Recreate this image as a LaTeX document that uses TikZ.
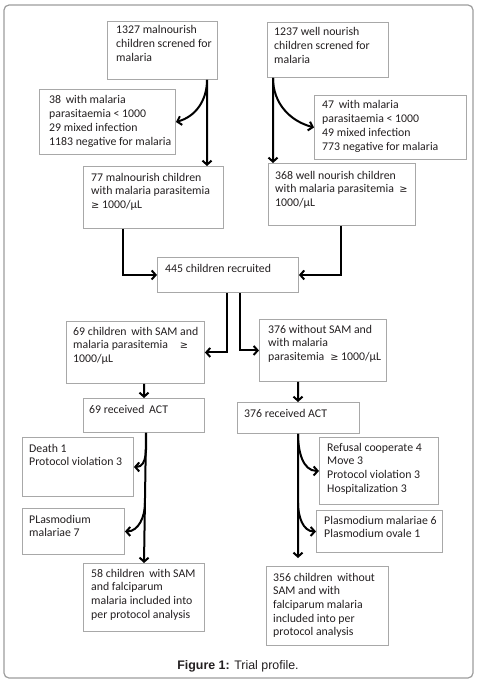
\documentclass[tikz,border=0pt]{standalone}
\usepackage{fontspec}
\setmainfont{Carlito}
\newfontfamily\capfont{Liberation Sans}
\newfontfamily\symfont{DejaVu Sans}
\usetikzlibrary{arrows.meta}
\definecolor{boxgray}{HTML}{A8A8A8}
\definecolor{framegray}{HTML}{9C9C9C}
\definecolor{ink}{HTML}{231F20}
\newcommand\mygeq{{\symfont\fontsize{9.8bp}{10bp}\selectfont ≥}}
\newcommand\tl[1]{\vtop{\baselineskip=13.7bp\lineskiplimit=-5pt #1}}
\begin{document}
\begin{tikzpicture}[x=1bp,y=-1bp,
  box/.style={draw=boxgray, line width=0.9bp, inner sep=0, anchor=north west},
  txt/.style={inner sep=0, anchor=base west, text=ink, font=\fontsize{11.8bp}{13.7bp}\selectfont},
  arr/.style={line width=2bp, -{Straight Barb[length=4bp,width=9bp]}},
  figcap/.style={inner sep=0, anchor=base, text=ink, font=\capfont\fontsize{12.4bp}{14bp}\selectfont}]
\useasboundingbox (0,0) rectangle (479,685);
\draw[framegray, line width=1.2bp, rounded corners=5bp] (4,5) rectangle (473,678);

% boxes
\node[box, minimum width=110bp, minimum height=58bp] (A) at (107,21) {};
\node[box, minimum width=121bp, minimum height=55bp] (B) at (267,22) {};
\node[box, minimum width=136bp, minimum height=65bp] (C) at (39,89) {};
\node[box, minimum width=152bp, minimum height=64bp] (D) at (314,95) {};
\node[box, minimum width=140bp, minimum height=62bp] (E) at (83,166) {};
\node[box, minimum width=147bp, minimum height=62bp] (F) at (268,163) {};
\node[box, minimum width=141bp, minimum height=35bp] (G) at (157,257) {};
\node[box, minimum width=138bp, minimum height=62bp] (H) at (66,321) {};
\node[box, minimum width=127bp, minimum height=62bp] (I) at (259,319) {};
\node[box, minimum width=121bp, minimum height=34bp] (J) at (83,398) {};
\node[box, minimum width=122bp, minimum height=31bp] (K) at (237,402) {};
\node[box, minimum width=111bp, minimum height=59bp] (L) at (22,437) {};
\node[box, minimum width=102bp, minimum height=46bp] (M) at (22,508) {};
\node[box, minimum width=121bp, minimum height=68bp] (N) at (83,563) {};
\node[box, minimum width=119bp, minimum height=67bp] (O) at (319,437) {};
\node[box, minimum width=126bp, minimum height=42bp] (P) at (316,510) {};
\node[box, minimum width=122bp, minimum height=79bp] (Q) at (266,566) {};

% texts
\node[txt] (At) at (116,34) {\tl{\hbox{1327 malnourish}\hbox{children screned for}\hbox{malaria}}};
\node[txt] (Bt) at (274,36) {\tl{\hbox{1237 well nourish}\hbox{children screned for}\hbox{malaria}}};
\node[txt] (Ct) at (49,104) {\tl{\hbox{38\, with malaria}\hbox{parasitaemia < 1000}\hbox{29 mixed infection}\hbox{1183 negative for malaria}}};
\node[txt] (Dt) at (322,109) {\tl{\hbox{47\, with malaria}\hbox{parasitaemia < 1000}\hbox{49 mixed infection}\hbox{773 negative for malaria}}};
\node[txt] (Et) at (91,181) {\tl{\hbox{77 malnourish children}\hbox{with malaria parasitemia}\hbox{\mygeq\ 1000/µL}}};
\node[txt] (Ft) at (275,179) {\tl{\hbox{368 well nourish children}\hbox{with malaria parasitemia\ \ \mygeq}\hbox{1000/µL}}};
\node[txt] (Gt) at (165,272) {445 children recruited};
\node[txt] (Ht) at (73,335) {\tl{\hbox{69 children\, with SAM and}\hbox{malaria parasitemia\quad\mygeq}\hbox{1000/µL}}};
\node[txt] (It) at (268,333) {\tl{\hbox{376 without SAM and}\hbox{with malaria}\hbox{parasitemia\; \mygeq\ 1000/µL}}};
\node[txt] (Jt) at (89,413) {69 received\, ACT};
\node[txt] (Kt) at (244,417) {376 received ACT};
\node[txt] (Lt) at (29,452) {\tl{\hbox{Death 1}\hbox{Protocol violation 3}}};
\node[txt] (Mt) at (29,523) {\tl{\hbox{PLasmodium}\hbox{malariae 7}}};
\node[txt] (Nt) at (91,577) {\tl{\hbox{58 children\, with SAM}\hbox{and falciparum}\hbox{malaria included into}\hbox{per protocol analysis}}};
\node[txt] (Ot) at (327,451) {\tl{\hbox{Refusal cooperate 4}\hbox{Move 3}\hbox{Protocol violation 3}\hbox{Hospitalization 3}}};
\node[txt] (Pt) at (324,524) {\tl{\hbox{Plasmodium malariae 6}\hbox{Plasmodium ovale 1}}};
\node[txt] (Qt) at (273,581) {\tl{\hbox{356 children\, without}\hbox{SAM and with}\hbox{falciparum malaria}\hbox{included into per}\hbox{protocol analysis}}};

\node[figcap] (capt) at (238,669) {\textbf{Figure 1:} Trial profile.};

% connectors
\coordinate (jm) at (145,503);
\coordinate (kp) at (298,503);
\draw[arr] ([xshift=100bp]A.south west) -- ([xshift=124bp]E.north west);
\draw[arr] ([xshift=100bp]A.south west) to[out=-90,in=15] (C.east);
\draw[arr] ([xshift=6bp]B.south west) -- ([xshift=5bp]F.north west);
\draw[arr] ([xshift=6bp]B.south west) to[out=-90,in=165] (D.west);
\draw[arr] ([xshift=40bp]E.south west) |- (G.west);
\draw[arr] ([xshift=73bp]F.south west) |- (G.east);
\draw[arr] ([xshift=70bp]G.south west) |- (H.east);
\draw[arr] ([xshift=83bp]G.south west) |- (I.west);
\draw[arr] ([xshift=78bp]H.south west) -- ([xshift=61bp]J.north west);
\draw[arr] ([xshift=39bp]I.south west) -- ([xshift=61bp]K.north west);
\draw[arr] ([xshift=63bp]J.south west) -- ([xshift=61bp]N.north west);
\draw[arr] ([xshift=63bp]J.south west) to[out=-90,in=0] (L.east);
\draw[arr] (jm) to[out=-90,in=0] (M.east);
\draw[arr] ([xshift=61bp]K.south west) -- ([xshift=32bp,yshift=8bp]Q.north west);
\draw[arr] ([xshift=61bp]K.south west) to[out=-90,in=180] (O.west);
\draw[arr] (kp) to[out=-90,in=180] (P.west);
\end{tikzpicture}
\end{document}
